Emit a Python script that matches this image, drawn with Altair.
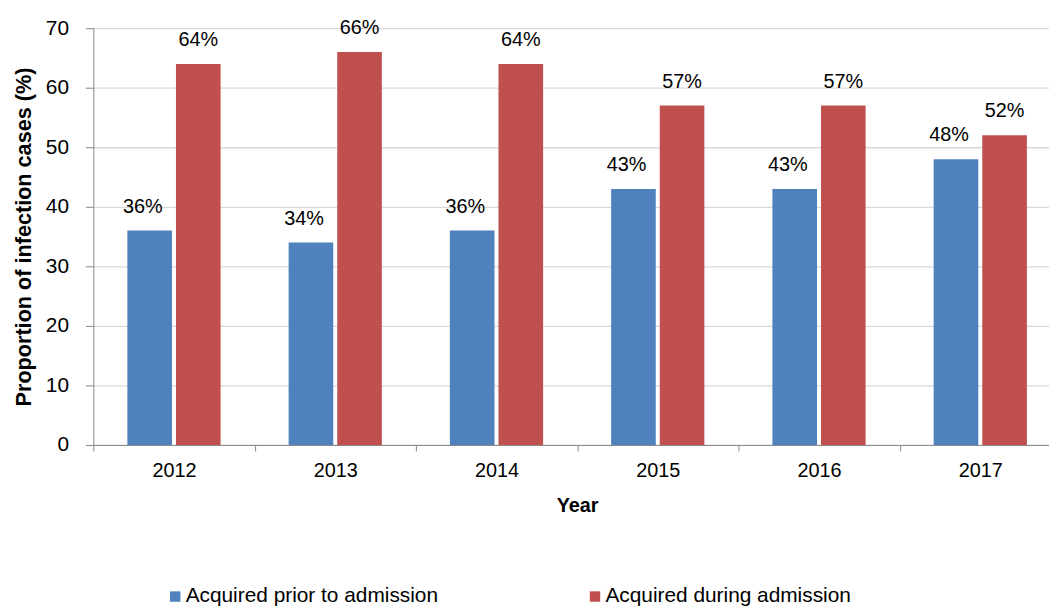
import altair as alt
import pandas as pd

years = ["2012", "2013", "2014", "2015", "2016", "2017"]
prior = [36, 34, 36, 43, 43, 48]
during = [64, 66, 64, 57, 57, 52]
series = ["Acquired prior to admission", "Acquired during admission"]
colors = ["#4F81BD", "#C0504D"]
y_ticks = [0, 10, 20, 30, 40, 50, 60, 70]

rows = []
for i, yr in enumerate(years):
    rows.append({"Year": yr, "Series": series[0], "Value": prior[i], "Label": f"{prior[i]}%"})
    rows.append({"Year": yr, "Series": series[1], "Value": during[i], "Label": f"{during[i]}%"})
df = pd.DataFrame(rows)

FONT = "Liberation Sans"
AXIS_GREY = "#868686"

x_enc = alt.X(
    "Year:N",
    sort=years,
    title="Year",
    scale=alt.Scale(paddingInner=0, paddingOuter=0),
    axis=alt.Axis(
        labelAngle=0, tickBand="extent", tickSize=6, labelPadding=10,
        labelFontSize=20, labelFont=FONT, labelColor="#000000",
        titleFontSize=20, titleFont=FONT, titleFontWeight="bold", titleColor="#000000",
        titlePadding=15, domainColor=AXIS_GREY, tickColor=AXIS_GREY, grid=False,
    ),
)
xo_enc = alt.XOffset(
    "Series:N", sort=series,
    scale=alt.Scale(paddingInner=0.082, paddingOuter=0.70),
)
y_enc = alt.Y(
    "Value:Q",
    title="Proportion of infection cases (%)",
    scale=alt.Scale(domain=[0, 70], nice=False),
    axis=alt.Axis(
        values=y_ticks, tickSize=8, labelPadding=17,
        labelFontSize=21, labelFont=FONT, labelColor="#000000",
        titleFontSize=21.8, titleFont=FONT, titleFontWeight="bold", titleColor="#000000",
        titlePadding=10, domainColor=AXIS_GREY, tickColor=AXIS_GREY,
        grid=True, gridColor="#D9D9D9", gridWidth=1.3,
    ),
)
color_enc = alt.Color(
    "Series:N", sort=series,
    scale=alt.Scale(domain=series, range=colors),
    legend=alt.Legend(
        title=None, orient="none", direction="horizontal",
        legendX=72, legendY=562, padding=0,
        symbolType="square", symbolSize=110, symbolStrokeWidth=0,
        labelFontSize=21, labelFont=FONT, labelColor="#000000",
        labelOffset=0, columnPadding=147, labelLimit=400,
    ),
)

base = alt.Chart(df).encode(x=x_enc, xOffset=xo_enc)

bars = base.mark_bar().encode(y=y_enc, color=color_enc)

labels_prior = base.transform_filter(
    alt.datum.Series == series[0]
).mark_text(
    baseline="alphabetic", dy=-18, dx=-7, fontSize=20, font=FONT, color="#000000"
).encode(y="Value:Q", text="Label:N")

labels_during = base.transform_filter(
    alt.datum.Series == series[1]
).mark_text(
    baseline="alphabetic", dy=-18, fontSize=20, font=FONT, color="#000000"
).encode(y="Value:Q", text="Label:N")

chart = alt.layer(bars, labels_prior, labels_during).properties(
    width=975,
    height=420,
    autosize=alt.AutoSizeParams(type="none"),
    padding={"left": 86, "top": 18, "right": -12, "bottom": 165},
).configure_view(stroke=None)

chart.save("out.html", embed_options={"renderer": "svg", "actions": False})
